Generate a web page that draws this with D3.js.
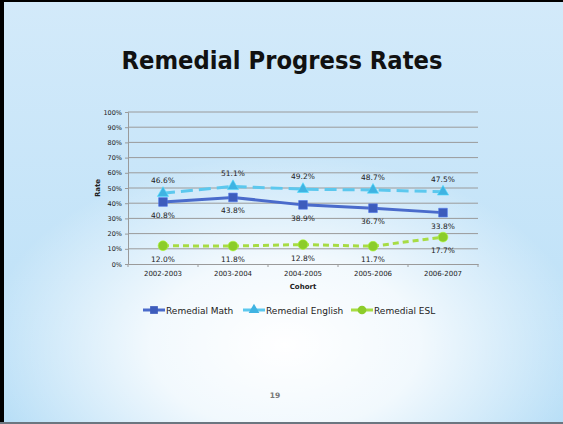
<!DOCTYPE html>
<html>
<head>
<meta charset="utf-8">
<script src="https://cdn.jsdelivr.net/npm/d3@7"></script>
<style>
body { margin: 0; padding: 0; overflow: hidden; }
svg { display: block; font-family: "DejaVu Sans", Verdana, sans-serif; }
</style>
</head>
<body>
<script>
const w = 563;
const h = 424;

const cohorts = ["2002-2003", "2003-2004", "2004-2005", "2005-2006", "2006-2007"];
const mathRates = [40.8, 43.8, 38.9, 36.7, 33.8];
const englishRates = [46.6, 51.1, 49.2, 48.7, 47.5];
const eslRates = [12.0, 11.8, 12.8, 11.7, 17.7];
const yTicks = [0, 10, 20, 30, 40, 50, 60, 70, 80, 90, 100];

const series = [
  { name: "Remedial Math", values: mathRates, color: "#4a6bcb", mark: "#3d5cbc", dash: null, shape: d3.symbolSquare, labelPos: "below" },
  { name: "Remedial English", values: englishRates, color: "#5cc8ee", mark: "#3fb3e2", dash: "12,6", shape: d3.symbolTriangle, labelPos: "above" },
  { name: "Remedial ESL", values: eslRates, color: "#a7dc44", mark: "#8ccc2a", dash: "6,4", shape: d3.symbolCircle, labelPos: "below" }
];

const svg = d3.select("body").append("svg")
  .attr("width", w)
  .attr("height", h);

// background: light blue, whitish glow in lower middle
const defs = svg.append("defs");
const base = defs.append("linearGradient").attr("id", "base").attr("x1", 0).attr("y1", 0).attr("x2", 0).attr("y2", 1);
base.append("stop").attr("offset", "0%").attr("stop-color", "#d3eafa");
base.append("stop").attr("offset", "100%").attr("stop-color", "#b9dff7");

const glow = defs.append("radialGradient").attr("id", "glow")
  .attr("gradientUnits", "userSpaceOnUse")
  .attr("cx", 0).attr("cy", 0).attr("r", 1)
  .attr("gradientTransform", "translate(285,345) scale(300,190)");
glow.append("stop").attr("offset", "0%").attr("stop-color", "#fff").attr("stop-opacity", 1);
glow.append("stop").attr("offset", "45%").attr("stop-color", "#fff").attr("stop-opacity", 0.8);
glow.append("stop").attr("offset", "100%").attr("stop-color", "#fff").attr("stop-opacity", 0);

svg.append("rect").attr("width", w).attr("height", h).attr("fill", "url(#base)");
svg.append("rect").attr("width", w).attr("height", h).attr("fill", "url(#glow)");

// frame
svg.append("rect").attr("x", 0).attr("y", 0).attr("width", 4).attr("height", h).attr("fill", "#000");
svg.append("rect").attr("x", 0).attr("y", 0).attr("width", w).attr("height", 2).attr("fill", "#000");
svg.append("rect").attr("x", 0).attr("y", h - 2).attr("width", w).attr("height", 2).attr("fill", "#6b7680");

// title
svg.append("text")
  .attr("x", 282).attr("y", 69)
  .attr("text-anchor", "middle")
  .attr("font-size", 24).attr("font-weight", "bold")
  .attr("textLength", 321).attr("lengthAdjust", "spacingAndGlyphs")
  .attr("fill", "#111")
  .text("Remedial Progress Rates");

// chart
const plotLeft = 128, plotRight = 478, plotTop = 112, plotBottom = 264;

const x = d3.scaleBand().domain(cohorts).range([plotLeft, plotRight]);
const y = d3.scaleLinear().domain([0, 100]).range([plotBottom, plotTop]);

// gridlines
svg.append("g")
  .selectAll("line")
  .data(yTicks.filter(d => d > 0))
  .join("line")
  .attr("x1", plotLeft).attr("x2", plotRight)
  .attr("y1", d => y(d)).attr("y2", d => y(d))
  .attr("stroke", "#9a9a9a").attr("stroke-width", 1);

// y axis
const yAxis = svg.append("g")
  .attr("transform", `translate(${plotLeft},0)`)
  .call(d3.axisLeft(y).tickValues(yTicks).tickFormat(d => d + "%").tickSize(3).tickPadding(3));
yAxis.select(".domain").attr("stroke", "#9a9a9a");
yAxis.selectAll(".tick line").attr("stroke", "#9a9a9a");
yAxis.selectAll("text").attr("font-size", 6.5).attr("fill", "#222").attr("font-family", "DejaVu Sans, sans-serif");

// x axis
const xAxis = svg.append("g")
  .attr("transform", `translate(0,${plotBottom})`)
  .call(d3.axisBottom(x).tickSize(0).tickPadding(7));
xAxis.select(".domain").attr("stroke", "#9a9a9a");
xAxis.selectAll("text").attr("font-size", 7).attr("fill", "#222").attr("font-family", "DejaVu Sans, sans-serif");
svg.append("g").selectAll("line")
  .data(d3.range(cohorts.length + 1))
  .join("line")
  .attr("x1", i => plotLeft + i * x.bandwidth()).attr("x2", i => plotLeft + i * x.bandwidth())
  .attr("y1", plotBottom).attr("y2", plotBottom + 3)
  .attr("stroke", "#9a9a9a");

// axis titles
svg.append("text")
  .attr("transform", "translate(100,188) rotate(-90)")
  .attr("text-anchor", "middle")
  .attr("font-size", 7).attr("font-weight", "bold").attr("fill", "#222")
  .text("Rate");
svg.append("text")
  .attr("x", (plotLeft + plotRight) / 2).attr("y", 289)
  .attr("text-anchor", "middle")
  .attr("font-size", 7).attr("font-weight", "bold").attr("fill", "#222")
  .text("Cohort");

// series
const line = d3.line()
  .x((d, i) => x(cohorts[i]) + x.bandwidth() / 2)
  .y(d => y(d));

series.forEach(s => {
  const g = svg.append("g");
  g.append("path")
    .datum(s.values)
    .attr("d", line)
    .attr("fill", "none")
    .attr("stroke", s.color)
    .attr("stroke-width", 3)
    .attr("stroke-dasharray", s.dash);
  g.selectAll("path.mk")
    .data(s.values)
    .join("path")
    .attr("class", "mk")
    .attr("transform", (d, i) => `translate(${x(cohorts[i]) + x.bandwidth() / 2},${y(d)})`)
    .attr("d", d3.symbol().type(s.shape).size(s.shape === d3.symbolTriangle ? 55 : 75))
    .attr("fill", s.mark)
    .attr("stroke", d3.color(s.mark).brighter(0.6))
    .attr("stroke-width", 0.6);
  g.selectAll("text")
    .data(s.values)
    .join("text")
    .attr("x", (d, i) => x(cohorts[i]) + x.bandwidth() / 2)
    .attr("y", d => s.labelPos === "above" ? y(d) - 10 : y(d) + 16)
    .attr("text-anchor", "middle")
    .attr("font-size", 7.5).attr("fill", "#222")
    .text(d => d.toFixed(1) + "%");
});

// legend
const legendItems = [
  { s: series[0], x0: 143 },
  { s: series[1], x0: 243 },
  { s: series[2], x0: 351 }
];
legendItems.forEach(it => {
  const g = svg.append("g");
  g.append("line")
    .attr("x1", it.x0).attr("x2", it.x0 + 22)
    .attr("y1", 310).attr("y2", 310)
    .attr("stroke", it.s.color).attr("stroke-width", 3);
  g.append("path")
    .attr("transform", `translate(${it.x0 + 11},310)`)
    .attr("d", d3.symbol().type(it.s.shape).size(it.s.shape === d3.symbolTriangle ? 50 : 60))
    .attr("fill", it.s.mark);
  g.append("text")
    .attr("x", it.x0 + 23).attr("y", 313.5)
    .attr("font-size", 9).attr("fill", "#222")
    .text(it.s.name);
});

// page number
svg.append("text")
  .attr("x", 275).attr("y", 398)
  .attr("text-anchor", "middle")
  .attr("font-size", 7.5).attr("font-weight", "bold").attr("fill", "#777")
  .text("19");
</script>
</body>
</html>
